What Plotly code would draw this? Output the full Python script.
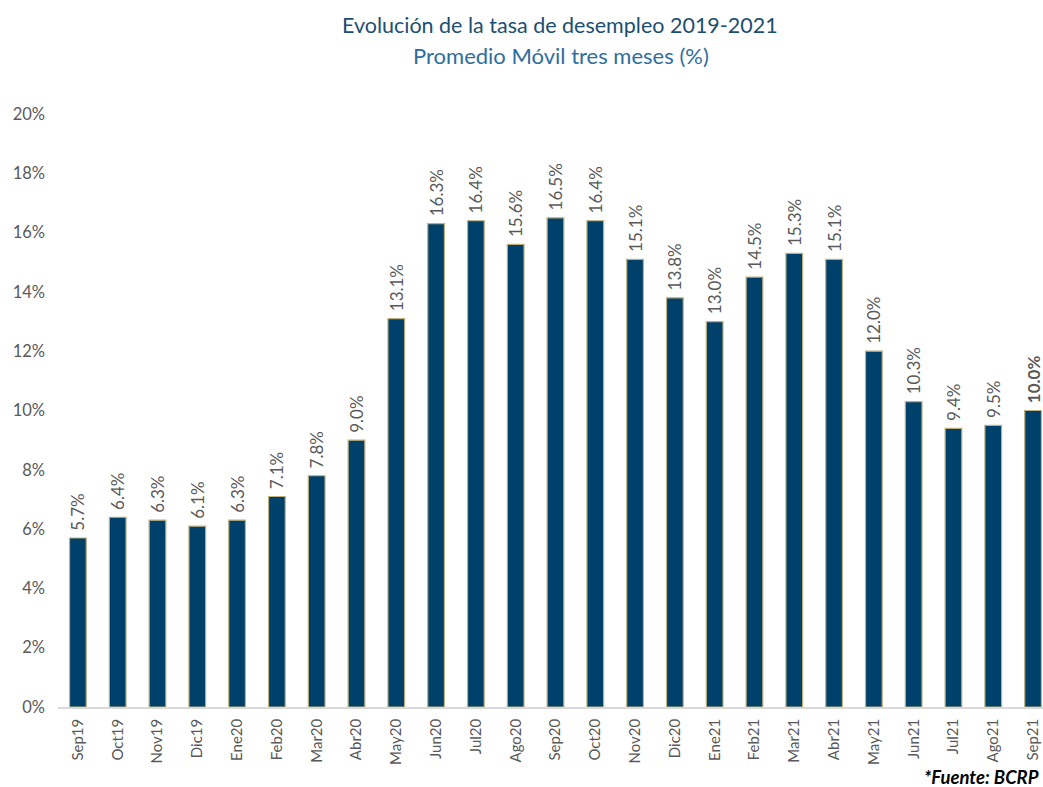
import plotly.graph_objects as go

categories = ["Sep19", "Oct19", "Nov19", "Dic19", "Ene20", "Feb20", "Mar20", "Abr20", "May20",
              "Jun20", "Jul20", "Ago20", "Sep20", "Oct20", "Nov20", "Dic20", "Ene21", "Feb21",
              "Mar21", "Abr21", "May21", "Jun21", "Jul21", "Ago21", "Sep21"]
values = [5.7, 6.4, 6.3, 6.1, 6.3, 7.1, 7.8, 9.0, 13.1, 16.3, 16.4, 15.6, 16.5, 16.4, 15.1,
          13.8, 13.0, 14.5, 15.3, 15.1, 12.0, 10.3, 9.4, 9.5, 10.0]
y_ticks = [0, 2, 4, 6, 8, 10, 12, 14, 16, 18, 20]
y_tick_labels = [f"{v}%" for v in y_ticks]

labels = [f"\u00a0{v:.1f}%" for v in values]
labels[-1] = f"\u00a0<b>{values[-1]:.1f}%</b>"

W, H = 1043, 787
ML, MR, MT, MB = 58, 0, 114, 80

fig = go.Figure(go.Bar(
    x=categories, y=values, text=labels, textposition="outside", textangle=-90,
    constraintext="none",
    textfont=dict(size=17, color="#595959", family="Lato"),
    cliponaxis=False,
    width=0.42,
    marker=dict(color="#00416B", line=dict(color="#BFB07E", width=1.2)),
))

pw = W - ML - MR
ph = H - MT - MB


def px(x):
    return (x - ML) / pw


def py(y):
    return (H - y - MB) / ph


fig.update_layout(
    width=W, height=H,
    margin=dict(l=ML, r=MR, t=MT, b=MB, autoexpand=False),
    plot_bgcolor="white", paper_bgcolor="white",
    font=dict(family="Lato", color="#595959"),
    showlegend=False,
    annotations=[
        dict(text="Evolución de la tasa de desempleo 2019-2021", x=px(560), y=py(25), xref="paper", yref="paper",
             showarrow=False, xanchor="center", yanchor="middle",
             font=dict(size=21.5, color="#1B4F72", family="Lato")),
        dict(text="Promedio Móvil tres meses (%)", x=px(561), y=py(56), xref="paper", yref="paper",
             showarrow=False, xanchor="center", yanchor="middle",
             font=dict(size=22, color="#2E6E9E", family="Lato")),
        dict(text="<b><i>*Fuente: BCRP</i></b>", x=px(1041), y=py(777), xref="paper", yref="paper",
             showarrow=False, xanchor="right", yanchor="middle",
             font=dict(size=18.5, color="#000000", family="Lato")),
    ],
)

fig.update_xaxes(
    range=[-0.5, 24.25], tickangle=-90, tickfont=dict(size=15, color="#595959"),
    showline=True, linecolor="#D9D9D9", linewidth=1.5, ticks="", showgrid=False,
    automargin=False, ticklabelstandoff=4,
)
fig.update_yaxes(
    range=[0, 20], tickvals=y_ticks, ticktext=y_tick_labels, showgrid=False, zeroline=False,
    showline=False, tickfont=dict(size=16.5, color="#595959"), ticklabelstandoff=12,
    automargin=False,
)

fig.write_html("out.html", post_script="document.body.style.margin='0';",
               config={"displayModeBar": False})
